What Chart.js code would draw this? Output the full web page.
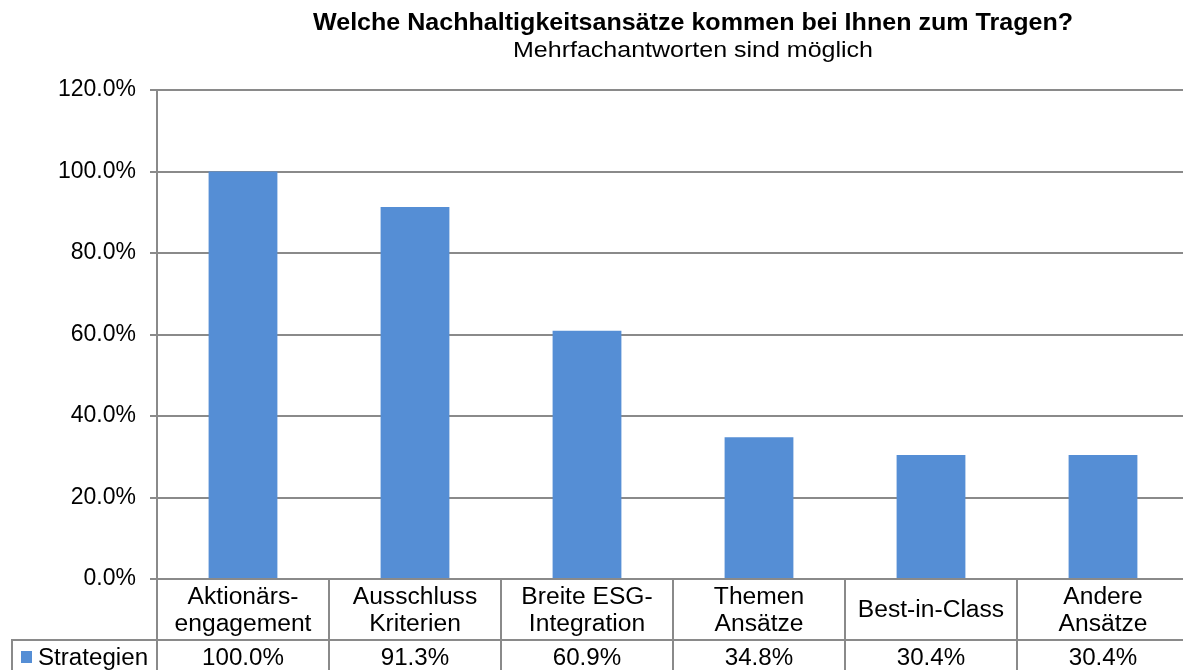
<!DOCTYPE html>
<html lang="de">
<head>
<meta charset="utf-8">
<title>Nachhaltigkeitsansätze</title>
<script src="https://cdn.jsdelivr.net/npm/chart.js@4.4.0/dist/chart.umd.min.js"></script>
<style>
    html, body { margin: 0; padding: 0; background: #fff; overflow: hidden; }
    #wrap { width: 1190px; height: 670px; }
</style>
</head>
<body>
<div id="wrap"><canvas id="chartStrategien" width="1190" height="670"></canvas></div>
<script>
// Daten aus der Grafik
const kategorien = [
    ['Aktionärs-', 'engagement'],
    ['Ausschluss', 'Kriterien'],
    ['Breite ESG-', 'Integration'],
    ['Themen', 'Ansätze'],
    ['Best-in-Class'],
    ['Andere', 'Ansätze']
];
const werte = [100.0, 91.3, 60.9, 34.8, 30.4, 30.4];
const serienName = 'Strategien';
const yMax = 120;
const ySchritt = 20;

const titel = 'Welche Nachhaltigkeitsansätze kommen bei Ihnen zum Tragen?';
const untertitel = 'Mehrfachantworten sind möglich';

const FONT = '"Liberation Sans", Arial, sans-serif';
const GRAU = '#8a8a8a';
const BLAU = '#558ED5';

function formatProzent(v) {
    return Number(v).toFixed(1) + '%';
}

// Text leicht horizontal gestreckt zeichnen (wie im Original)
function textGestreckt(ctx, text, x, y, streck) {
    ctx.save();
    ctx.translate(x, y);
    ctx.scale(streck, 1);
    ctx.fillText(text, 0, 0);
    ctx.restore();
}

// Text auf eine feste Breite bringen
function textAufBreite(ctx, text, x, y, breite) {
    const w = ctx.measureText(text).width;
    textGestreckt(ctx, text, x, y, breite / w);
}

// --- Titel + Datentabelle unter dem Diagramm ---
const tabellePlugin = {
    id: 'datentabelle',
    afterDraw(chart) {
        const ctx = chart.ctx;
        const x = chart.scales.x;
        const area = chart.chartArea;
        const unten = chart.height + 2;
        const zeileY = 640;

        ctx.save();

        // Titel
        ctx.fillStyle = '#000';
        ctx.textAlign = 'center';
        ctx.textBaseline = 'alphabetic';
        ctx.font = 'bold 24px ' + FONT;
        textAufBreite(ctx, titel, 693, 30, 760);
        ctx.font = '22px ' + FONT;
        textAufBreite(ctx, untertitel, 693, 57, 360);

        // Linien der Tabelle
        const grenzen = [area.left];
        for (let i = 1; i < kategorien.length; i++) {
            grenzen.push((x.getPixelForValue(i - 1) + x.getPixelForValue(i)) / 2);
        }
        grenzen.push(area.right);

        ctx.strokeStyle = GRAU;
        ctx.lineWidth = 2;
        ctx.beginPath();
        grenzen.forEach(g => {
            ctx.moveTo(g, area.bottom);
            ctx.lineTo(g, unten);
        });
        ctx.moveTo(11, zeileY);
        ctx.lineTo(area.right, zeileY);
        ctx.moveTo(12, zeileY - 1);
        ctx.lineTo(12, unten);
        ctx.stroke();

        // Kategorien
        ctx.fillStyle = '#000';
        ctx.font = '23px ' + FONT;
        ctx.textAlign = 'center';
        kategorien.forEach((zeilen, i) => {
            const cx = x.getPixelForValue(i);
            const start = 617 - (zeilen.length - 1) * 13.5;
            zeilen.forEach((z, j) => textGestreckt(ctx, z, cx, start + j * 27, 1.07));
        });

        // Werte
        werte.forEach((v, i) => {
            textGestreckt(ctx, formatProzent(v), x.getPixelForValue(i), 665, 1.05);
        });

        // Legende in der Tabelle
        ctx.fillStyle = BLAU;
        ctx.fillRect(21, 651, 11, 12);
        ctx.fillStyle = '#000';
        ctx.textAlign = 'left';
        textGestreckt(ctx, serienName, 38, 665, 1.05);

        ctx.restore();
    }
};

const ctx = document.getElementById('chartStrategien').getContext('2d');
new Chart(ctx, {
    type: 'bar',
    data: {
        labels: kategorien,
        datasets: [{
            label: serienName,
            data: werte,
            backgroundColor: BLAU,
            borderWidth: 0,
            barPercentage: 0.4,
            categoryPercentage: 1.0
        }]
    },
    options: {
        responsive: false,
        animation: false,
        layout: { padding: { top: 90, bottom: 91, left: 0, right: 1 } },
        plugins: {
            legend: { display: false },
            title: { display: false },
            tooltip: { enabled: false }
        },
        scales: {
            x: {
                ticks: { display: false },
                grid: { display: false },
                border: { display: false },
                afterFit(scale) { scale.height = 0; }
            },
            y: {
                min: 0,
                max: yMax,
                ticks: {
                    stepSize: ySchritt,
                    padding: 14,
                    color: '#000',
                    font: { family: FONT, size: 23 },
                    callback: v => formatProzent(v)
                },
                grid: { color: GRAU, lineWidth: 2, tickLength: 7 },
                border: { color: GRAU, width: 2 },
                afterFit(scale) { scale.width = 157; }
            }
        }
    },
    plugins: [tabellePlugin]
});
</script>
</body>
</html>
